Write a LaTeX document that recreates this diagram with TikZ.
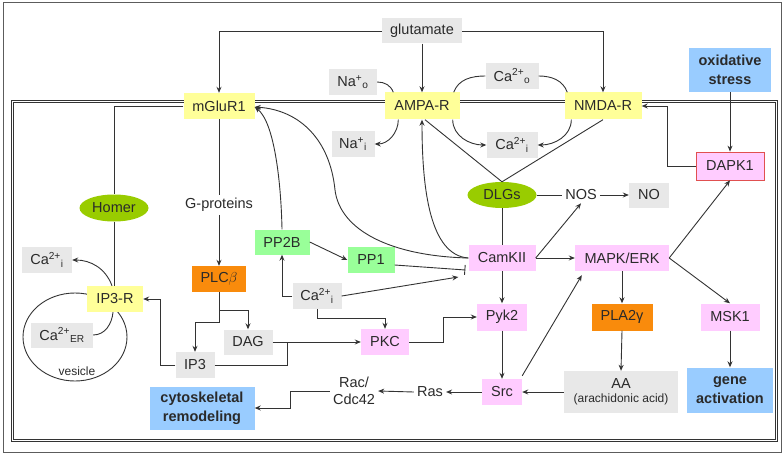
\documentclass[tikz,border=0pt]{standalone}
\usepackage{fontspec}
\setmainfont{Liberation Sans}
\usetikzlibrary{arrows.meta,shapes.geometric,calc}
\definecolor{grayfill}{HTML}{E8E8E8}
\definecolor{yel}{HTML}{FFFF99}
\definecolor{pnk}{HTML}{FFCCFF}
\definecolor{grn}{HTML}{99FF99}
\definecolor{ellg}{HTML}{99CC00}
\definecolor{orng}{HTML}{F98B0C}
\definecolor{blu}{HTML}{99CCFF}
\definecolor{dapkred}{HTML}{E05050}
\definecolor{txt}{HTML}{2A2A2A}
\definecolor{ln}{HTML}{333333}
\tikzset{
  base/.style={rectangle, inner sep=0pt, font=\fontsize{14.5}{16}\selectfont, text=txt},
  sz/.style 2 args={minimum width=#1pt, minimum height=#2pt},
  graybox/.style={base, fill=grayfill},
  yelbox/.style={base, fill=yel},
  pinkbox/.style={base, fill=pnk},
  greenbox/.style={base, fill=grn},
  orangebox/.style={base, fill=orng},
  bluebox/.style={base, fill=blu, align=center, font=\fontsize{14.5}{19}\selectfont\bfseries},
  ellbox/.style={base, ellipse, fill=ellg},
  plain/.style={base, inner sep=3pt},
  conn/.style={draw=ln, line width=0.9pt},
  arr/.style={conn, -{Stealth[length=6pt,width=5pt]}},
  inh/.style={conn, -{Bar[width=10pt]}},
}
\begin{document}
\begin{tikzpicture}[x=1pt,y=-1pt]
\useasboundingbox (0,0) rectangle (783,457);
% frames
\draw[ln!80, line width=1pt] (3,3) rectangle (781,452);
\draw[ln, double=white, double distance=1.6pt, line width=0.9pt] (12.5,101.5) rectangle (776.5,440.5);
% vesicle
\draw[conn] (75,337) ellipse [x radius=52, y radius=44];
\node[base, font=\fontsize{12}{14}\selectfont] (ves) at (77,371) {vesicle};

% nodes
\node[graybox, sz={80}{25}] (glu) at (422,31) {glutamate};
\node[yelbox, sz={71}{26}] (mglur) at (219,106) {mGluR1};
\node[yelbox, sz={75}{27}] (ampa) at (422,106) {AMPA-R};
\node[yelbox, sz={77}{27}] (nmda) at (603,106) {NMDA-R};
\node[graybox, sz={48}{26}] (nao) at (353,82) {Na\textsuperscript{+}\textsubscript{o}};
\node[graybox, sz={43}{26}] (nai) at (353,144) {Na\textsuperscript{+}\textsubscript{i}};
\node[graybox, sz={53}{26}] (cao) at (512,76) {Ca\textsuperscript{2+}\textsubscript{o}};
\node[graybox, sz={51}{26}] (cai1) at (512,145) {Ca\textsuperscript{2+}\textsubscript{i}};
\node[bluebox, sz={82}{44}] (ox) at (730,70) {oxidative\\stress};
\node[pinkbox, draw=dapkred, line width=0.8pt, sz={68}{28}] (dapk) at (730,166) {DAPK1};
\node[ellbox, sz={69}{27}] (homer) at (114,208) {Homer};
\node[plain] (gprot) at (219,205) {G-proteins};
\node[ellbox, sz={69}{26}] (dlgs) at (502,195) {DLGs};
\node[plain] (nos) at (581,195) {NOS};
\node[graybox, sz={40}{25}] (no) at (649,195) {NO};
\node[graybox, sz={50}{26}] (cai2) at (47,260) {Ca\textsuperscript{2+}\textsubscript{i}};
\node[orangebox, sz={54}{26}] (plc) at (219,279) {PLC$\beta$};
\node[greenbox, sz={55}{25}] (pp2b) at (282,242) {PP2B};
\node[greenbox, sz={47}{26}] (pp1) at (371,260) {PP1};
\node[pinkbox, sz={67}{26}] (camk) at (502,258) {CamKII};
\node[pinkbox, sz={94}{26}] (mapk) at (622,258) {MAPK/ERK};
\node[yelbox, sz={56}{26}] (ip3r) at (115,299) {IP3-R};
\node[graybox, sz={49}{26}] (cai3) at (317,296) {Ca\textsuperscript{2+}\textsubscript{i}};
\node[pinkbox, sz={50}{27}] (pyk) at (502,317) {Pyk2};
\node[orangebox, sz={61}{27}] (pla) at (622,317) {PLA2γ};
\node[pinkbox, sz={59}{27}] (msk) at (730,317) {MSK1};
\node[graybox, sz={62}{25}] (caer) at (62,335) {Ca\textsuperscript{2+}\textsubscript{ER}};
\node[graybox, sz={49}{25}] (dag) at (248,342) {DAG};
\node[pinkbox, sz={48}{26}] (pkc) at (385,342) {PKC};
\node[graybox, sz={39}{26}] (ip3) at (195,365) {IP3};
\node[graybox, sz={114}{42}, align=center] (aa) at (621,392) {AA\\[-2pt]{\fontsize{12}{14}\selectfont (arachidonic acid)}};
\node[bluebox, sz={86}{45}] (gene) at (730,390) {gene\\activation};
\node[pinkbox, sz={40}{26}] (src) at (502,392) {Src};
\node[plain] (ras) at (430,392) {Ras};
\node[plain, align=center, font=\fontsize{14.5}{17}\selectfont] (rac) at (354,391) {Rac/\\Cdc42};
\node[bluebox, sz={105}{43}] (cyto) at (202,408) {cytoskeletal\\remodeling};

% connectors
\draw[arr] (glu.west) -| (mglur.north);
\draw[arr] (glu.east) -| (nmda.north);
\draw[arr] (glu.south) -- (ampa.north);
\draw[conn] (nao.east) to[out=0, in=110] ([xshift=9pt]ampa.north west);
\draw[arr] ([xshift=14pt]ampa.south west) to[out=-90, in=0] (nai.east);
\draw[conn] (cao.west) to[out=180, in=70] ([xshift=-6pt]ampa.north east);
\draw[conn] (cao.east) to[out=0, in=110] ([xshift=3pt]nmda.north west);
\draw[arr] ([xshift=-7pt]ampa.south east) to[out=-90, in=180] (cai1.west);
\draw[arr] ([xshift=7pt]nmda.south west) to[out=-90, in=0] (cai1.east);
\draw[conn] ([xshift=3pt]ampa.south) -- (dlgs.north);
\draw[conn] (nmda.south) -- (dlgs.north);
\draw[conn] (mglur.west) -| (homer.north);
\draw[conn] (homer.south) -- (ip3r.north -| homer.south);
\draw[arr] ([xshift=-3pt]ip3r.north) to[out=110, in=0] (cai2.east);
\draw[conn] ([xshift=-2pt]ip3r.south) to[out=-95, in=0] (caer.east);
\draw[conn] (mglur.south) -- (gprot.north);
\draw[arr] (gprot.south) -- (plc.north);
\draw[arr] (plc.south) -- ++(0,30) -| (ip3.north);
\coordinate (plcj) at ($(plc.south)+(0,18)$);
\draw[arr] (plcj) -| (dag.north);
\draw[arr] (ip3.west) -- ++(-15,0) |- (ip3r.east);
\draw[conn] (ip3.east) -| ([xshift=15pt]dag.east);
\draw[arr] (dag.east) -- (pkc.west);
\draw[arr] (cai3.south) -- ++(0,9) -| (pkc.north);
\draw[arr] (cai3.west) -| (pp2b.south);
\draw[arr] (pp2b.east) -- (pp1.west);
\draw[inh] ([yshift=-5pt]pp1.east) -- ([xshift=-3pt,yshift=-12pt]camk.west);
\draw[arr] (cai3.east) -- ([xshift=-10pt,yshift=-19pt]camk.west);
\draw[arr] (camk.east) -- (nos.south);
\draw[arr] (camk.east) -- (mapk.west);
\draw[conn] (dlgs.east) -- (nos.west);
\draw[arr] (nos.east) -- (no.west);
\draw[conn] (dlgs.south) -- (camk.north);
\draw[arr] (camk.south) -- (pyk.north);
\draw[arr] (pyk.south) -- (src.north);
\draw[arr] (pkc.east) -- ++(34,0) |- (pyk.west);
\draw[arr] (src.west) -- (ras.east);
\draw[arr] (ras.west) -- (rac.east);
\draw[arr] (rac.west) -- (rac.west -| 290,0) |- (cyto.east);
\draw[arr] (aa.west) -- (src.east);
\draw[arr] ([yshift=3pt]src.north east) -- ([xshift=7pt,yshift=-4pt]mapk.south west);
\draw[arr] (mapk.east) -- (dapk.south);
\draw[arr] (mapk.east) -- (msk.north);
\draw[arr] (mapk.south) -- (pla.north);
\draw[arr] (pla.south) -- (aa.north);
\draw[arr] (msk.south) -- (gene.north);
\draw[arr] (ox.south) -- (dapk.north);
\draw[arr] (dapk.west) -- ++(-28,0) |- (nmda.east);
\draw[arr] (pp2b.north) .. controls (281,180) and (274,122) .. ([yshift=-1pt]mglur.east);
\draw[arr] (camk.west) .. controls (390,256) and (340,230) .. (335,190)
           .. controls (330,140) and (300,110) .. ([yshift=-1pt]mglur.east);
\draw[arr] (camk.west) .. controls (430,255) and (422,190) .. (ampa.south);
\end{tikzpicture}
\end{document}
